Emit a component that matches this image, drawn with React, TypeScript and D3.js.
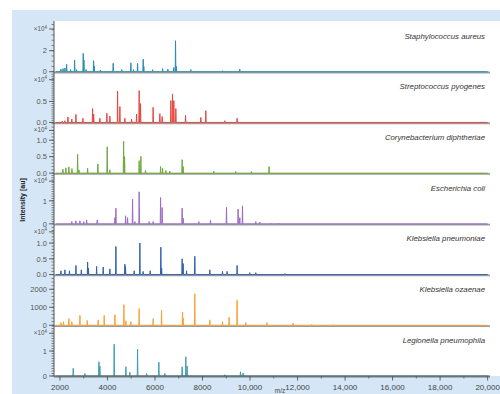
import React from 'react';
import * as d3 from 'd3';

type Peak = [number, number];

// peaks: [m/z, intensity]
const staphAureus: Peak[] = [
  [2040, 0.25], [2130, 0.3], [2210, 0.35], [2282, 0.7], [2450, 0.2], [2618, 1.1], [2700, 0.2],
  [2980, 1.75], [3010, 1.1], [3100, 0.2], [3417, 1.05], [3445, 0.55], [3700, 0.15], [4241, 0.8],
  [4600, 0.2], [4985, 0.85], [5100, 0.2], [5267, 0.8], [5503, 1.2], [5530, 0.5], [5900, 0.2],
  [6320, 0.3], [6541, 0.25], [6790, 0.4], [6865, 2.95], [6900, 0.5], [7509, 0.2], [8842, 0.1], [9569, 0.25],
];
const strepPyogenes: Peak[] = [
  [2100, 0.03], [2200, 0.04], [2336, 0.13], [2500, 0.08], [2673, 0.19], [2967, 0.1], [3375, 0.33],
  [3420, 0.2], [3682, 0.1], [3976, 0.22], [4102, 0.15], [4426, 0.75], [4523, 0.38], [4733, 0.1],
  [5015, 0.08], [5225, 0.2], [5335, 0.76], [5393, 0.45], [5923, 0.36], [6205, 0.21], [6302, 0.14],
  [6668, 0.52], [6739, 0.68], [6794, 0.52], [6878, 0.33], [7286, 0.17], [7929, 0.12], [8139, 0.28],
  [8938, 0.04], [9456, 0.1],
];
const corynebacterium: Peak[] = [
  [2126, 0.12], [2250, 0.16], [2378, 0.19], [2505, 0.14], [2744, 0.57], [2800, 0.1], [3165, 0.15],
  [3598, 0.28], [3989, 0.8], [4100, 0.1], [4679, 0.97], [4721, 0.5], [5335, 0.38], [5406, 0.51],
  [5600, 0.08], [6235, 0.2], [6319, 0.15], [6457, 0.08], [6626, 0.06], [7143, 0.41], [7185, 0.2],
  [8476, 0.06], [9401, 0.05], [10061, 0.05], [10801, 0.2],
];
const escherichiaColi: Peak[] = [
  [2500, 0.1], [2673, 0.13], [2841, 0.13], [3000, 0.1], [3123, 0.17], [3569, 0.17], [4313, 0.27],
  [4355, 0.68], [4763, 0.35], [4847, 0.27], [5057, 1.07], [5154, 0.1], [5335, 1.39], [5755, 0.1],
  [5923, 0.1], [6235, 1.14], [6302, 0.71], [7143, 0.68], [7185, 0.25], [7845, 0.1], [8337, 0.15],
  [9010, 0.71], [9498, 0.64], [9569, 0.27], [9683, 0.78], [10242, 0.1], [10410, 0.08], [10900, 0.03],
  [11200, 0.03],
];
const klebsiellaPneumoniae: Peak[] = [
  [2042, 0.12], [2210, 0.15], [2400, 0.12], [2673, 0.29], [2900, 0.15], [3165, 0.4], [3200, 0.2],
  [3543, 0.26], [3821, 0.24], [4102, 0.18], [4355, 0.89], [4733, 0.33], [4760, 0.25], [5124, 0.12],
  [5364, 1.0], [5500, 0.1], [5800, 0.12], [6247, 0.87], [6280, 0.2], [7143, 0.5], [7185, 0.35],
  [7328, 0.12], [7677, 0.58], [8308, 0.15], [8842, 0.1], [9035, 0.1], [9456, 0.29], [9990, 0.06],
  [10242, 0.06], [11461, 0.03],
];
const klebsiellaOzaenae: Peak[] = [
  [2042, 150], [2150, 200], [2378, 370], [2500, 200], [2841, 550], [3148, 270], [3610, 300],
  [3863, 550], [4313, 590], [4691, 1150], [4775, 250], [4985, 200], [5335, 930], [5923, 370],
  [6277, 830], [7160, 740], [7185, 400], [7677, 1760], [8308, 300], [8842, 200], [9119, 450],
  [9456, 1390], [9821, 150], [10717, 150], [11810, 120], [12600, 50], [13500, 40],
];
const legionella: Peak[] = [
  [2560, 0.31], [3051, 0.1], [3640, 0.57], [3682, 0.4], [4283, 1.27], [4775, 0.37], [4943, 0.15],
  [5267, 1.08], [5646, 0.1], [6163, 0.55], [6415, 0.1], [7143, 0.37], [7298, 0.77], [7353, 0.4],
  [8938, 0.05], [9599, 0.17], [9708, 0.12],
];

const speciesNames = [
  'Staphylococcus aureus', 'Streptococcus pyogenes', 'Corynebacterium diphtheriae',
  'Escherichia coli', 'Klebsiella pneumoniae', 'Klebsiella ozaenae', 'Legionella pneumophila',
];
const spectra = [staphAureus, strepPyogenes, corynebacterium, escherichiaColi,
  klebsiellaPneumoniae, klebsiellaOzaenae, legionella];
const colors = ['#2b8cae', '#e5473f', '#6fa83c', '#9b6cc4', '#2f5fae', '#f7a236', '#3f9db2'];
const yMaxima = [4.83, 1.21, 1.54, 2.2, 1.61, 2817, 2.03];
const majorTicks = [[0, 2], [0, 0.5], [0, 0.5, 1], [0, 1], [0, 0.5, 1], [0, 1000, 2000], [0, 1]];
const minorSteps = [0.5, 0.05, 0.1, 0.1, 0.1, 200, 0.1];
const tickFormats = ['d', '.1f', '.1f', 'd', '.1f', 'd', 'd'];
const hasExponent = [true, true, true, true, true, false, true];
const xTickValues = [2000, 4000, 6000, 8000, 10000, 12000, 14000, 16000, 18000, 20000];

const W = 500, H = 394;
const plotTop = 21, plotBottom = 376, axisX = 54;
const font = '"Liberation Sans", Arial, sans-serif';

export default function App() {
  const x = d3.scaleLinear().domain([1750, 20100]).range([axisX, 490]);
  const band = d3.scaleBand<number>().domain(d3.range(7)).range([plotTop, plotBottom]);
  const xLabel = (v: number) => (v >= 10000 ? d3.format(',')(v) : String(v));
  const halfW = 14; // spike half-width in m/z

  return (
    <div style={{ position: 'fixed', left: 0, top: 0 }}>
      <svg width={W} height={H} style={{ display: 'block', fontFamily: font }}>
        <rect x={12} y={10} width={W - 12} height={H - 10} fill="#d5e7f6" />
        <rect x={axisX} y={plotTop} width={W - axisX} height={plotBottom - plotTop} fill="#ffffff" />

        {spectra.map((peaks, i) => {
          const top = band(i)!;
          const bottom = top + band.bandwidth();
          const y = d3.scaleLinear().domain([0, yMaxima[i]]).range([bottom, top]);
          const sorted = [...peaks].sort((a, b) => a[0] - b[0]);
          const pts: [number, number][] = [[1820, 0]];
          sorted.forEach(([m, v]) => {
            pts.push([m - halfW, 0], [m, v], [m + halfW, 0]);
          });
          pts.push([20000, 0]);
          const line = d3.line<[number, number]>().x(d => x(d[0])).y(d => y(d[1]));
          const fmt = d3.format(tickFormats[i]);
          const minors = d3.range(0, yMaxima[i] * 0.99, minorSteps[i]);
          return (
            <g key={i}>
              <line x1={axisX} x2={490} y1={bottom + 0.8} y2={bottom + 0.8} stroke="#9c9c9c" strokeWidth={1.8} />
              <path d={line(pts)!} fill="none" stroke={colors[i]} strokeWidth={1} strokeLinejoin="round" />
              <text x={485} y={top + 17.5} textAnchor="end" fontSize={7.8} fontStyle="italic" fill="#333">
                {speciesNames[i]}
              </text>
              {minors.map((v, k) => (
                <line key={'m' + k} x1={axisX - 2.5} x2={axisX} y1={y(v)} y2={y(v)} stroke="#555" strokeWidth={0.7} />
              ))}
              {majorTicks[i].map(v => (
                <g key={v}>
                  <line x1={axisX - 5} x2={axisX} y1={y(v)} y2={y(v)} stroke="#555" strokeWidth={0.9} />
                  <text x={axisX - 7} y={y(v) + 2.7} textAnchor="end" fontSize={7.5} fill="#555">
                    {fmt(v)}
                  </text>
                </g>
              ))}
              {hasExponent[i] && (
                <g>
                  <line x1={axisX - 5} x2={axisX} y1={top + 8} y2={top + 8} stroke="#555" strokeWidth={0.9} />
                  <text x={axisX - 7} y={top + 10} textAnchor="end" fontSize={6.3} fill="#555">
                    ×10<tspan fontSize={4.5} dy={-2.5}>4</tspan>
                  </text>
                </g>
              )}
            </g>
          );
        })}

        <line x1={axisX} x2={axisX} y1={plotTop} y2={plotBottom} stroke="#555" strokeWidth={1} />
        <line x1={axisX} x2={490} y1={plotBottom} y2={plotBottom} stroke="#555" strokeWidth={1} />
        {d3.range(3000, 20000, 2000).map(v => (
          <line key={'xm' + v} x1={x(v)} x2={x(v)} y1={plotBottom} y2={plotBottom + 2.5} stroke="#555" strokeWidth={0.8} />
        ))}
        {xTickValues.map(v => (
          <g key={v}>
            <line x1={x(v)} x2={x(v)} y1={plotBottom} y2={plotBottom + 4.5} stroke="#555" strokeWidth={0.9} />
            <text x={x(v)} y={389.5} textAnchor="middle" fontSize={8} fill="#444">{xLabel(v)}</text>
          </g>
        ))}
        <text x={280} y={393} textAnchor="middle" fontSize={6.5} fill="#444">m/z</text>
        <text transform="translate(25,200) rotate(-90)" textAnchor="middle" fontSize={7} fontWeight="bold" fill="#222">
          Intensity [au]
        </text>
      </svg>
    </div>
  );
}
